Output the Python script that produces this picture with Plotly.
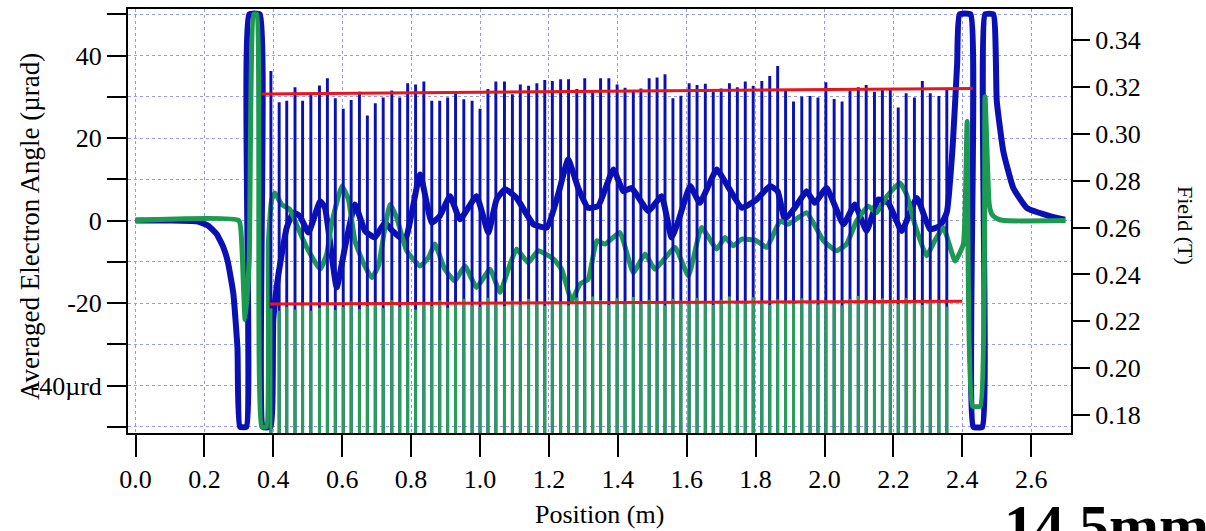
import plotly.graph_objects as go

# ---- pole-by-pole peak field (T), right axis ----
BAR_POS = [0.393, 0.417, 0.439, 0.463, 0.485, 0.509, 0.534, 0.557, 0.580, 0.603,
           0.626, 0.650, 0.673, 0.696, 0.719, 0.744, 0.767, 0.790, 0.813, 0.837,
           0.860, 0.883, 0.906, 0.929, 0.953, 0.977, 1.000, 1.023, 1.046, 1.071,
           1.094, 1.117, 1.141, 1.165, 1.188, 1.210, 1.234, 1.257, 1.281, 1.304,
           1.327, 1.350, 1.374, 1.398, 1.421, 1.445, 1.467, 1.491, 1.514, 1.537,
           1.560, 1.583, 1.607, 1.630, 1.654, 1.677, 1.700, 1.724, 1.747, 1.770,
           1.793, 1.818, 1.841, 1.864, 1.887, 1.910, 1.934, 1.958, 1.981, 2.004,
           2.028, 2.051, 2.074, 2.098, 2.121, 2.145, 2.168, 2.191, 2.214, 2.237,
           2.261, 2.284, 2.307, 2.332, 2.355]

FIELD_PEAK_HIGH = [0.3268, 0.3135, 0.3141, 0.3199, 0.3141, 0.3176, 0.3206, 0.3237, 0.3152, 0.3107,
                   0.3145, 0.3180, 0.3078, 0.3131, 0.3155, 0.3185, 0.3155, 0.3216, 0.3211, 0.3223,
                   0.3141, 0.3141, 0.3155, 0.3173, 0.3148, 0.3141, 0.3107, 0.3192, 0.3223, 0.3223,
                   0.3169, 0.3211, 0.3205, 0.3216, 0.3230, 0.3226, 0.3233, 0.3233, 0.3192, 0.3237,
                   0.3178, 0.3237, 0.3237, 0.3211, 0.3197, 0.3180, 0.3194, 0.3237, 0.3241, 0.3254,
                   0.3152, 0.3163, 0.3216, 0.3209, 0.3214, 0.3180, 0.3194, 0.3216, 0.3199, 0.3223,
                   0.3205, 0.3226, 0.3247, 0.3290, 0.3183, 0.3138, 0.3159, 0.3162, 0.3155, 0.3220,
                   0.3149, 0.3138, 0.3185, 0.3199, 0.3209, 0.3180, 0.3188, 0.3188, 0.3112, 0.3173,
                   0.3155, 0.3226, 0.3173, 0.3162, 0.3192]

FIELD_PEAK_LOW = [0.2255, 0.2245, 0.2262, 0.2250, 0.2268, 0.2244, 0.2258, 0.2270, 0.2248, 0.2262,
                  0.2285, 0.2252, 0.2266, 0.2278, 0.2256, 0.2290, 0.2262, 0.2272, 0.2250, 0.2281,
                  0.2266, 0.2290, 0.2258, 0.2275, 0.2296, 0.2268, 0.2262, 0.2300, 0.2280, 0.2265,
                  0.2288, 0.2272, 0.2296, 0.2278, 0.2266, 0.2290, 0.2282, 0.2268, 0.2302, 0.2276,
                  0.2306, 0.2290, 0.2270, 0.2298, 0.2284, 0.2304, 0.2276, 0.2292, 0.2280, 0.2268,
                  0.2296, 0.2288, 0.2275, 0.2300, 0.2284, 0.2270, 0.2292, 0.2306, 0.2286, 0.2276,
                  0.2302, 0.2288, 0.2270, 0.2294, 0.2282, 0.2276, 0.2298, 0.2286, 0.2272, 0.2290,
                  0.2280, 0.2268, 0.2296, 0.2308, 0.2284, 0.2276, 0.2298, 0.2290, 0.2274, 0.2300,
                  0.2284, 0.2270, 0.2292, 0.2278, 0.2262]

FIELD_BASE = 0.17

# linear trend lines through the peaks
FIT_HIGH_X = [0.366, 2.430]
FIT_HIGH_T = [0.3170, 0.3194]
FIT_LOW_X = [0.390, 2.400]
FIT_LOW_T = [0.2274, 0.2285]

# ---- averaged electron angle (µrad), left axis ----
ANGLE_A_X = [0.000, 0.100, 0.178, 0.210, 0.236, 0.255, 0.268, 0.284, 0.296, 0.303,
             0.322, 0.330, 0.361, 0.370, 0.392, 0.400, 0.415, 0.439, 0.458, 0.477,
             0.502, 0.536, 0.550, 0.584, 0.608, 0.637, 0.666, 0.695, 0.724, 0.746,
             0.782, 0.826, 0.860, 0.883, 0.913, 0.942, 0.990, 1.024, 1.048, 1.073,
             1.106, 1.155, 1.194, 1.227, 1.256, 1.285, 1.314, 1.343, 1.387, 1.416,
             1.440, 1.489, 1.527, 1.556, 1.576, 1.610, 1.638, 1.687, 1.716, 1.760,
             1.803, 1.842, 1.864, 1.885, 1.914, 1.948, 1.972, 2.006, 2.055, 2.088,
             2.122, 2.156, 2.185, 2.224, 2.268, 2.306, 2.335, 2.355, 2.372, 2.385,
             2.392, 2.424, 2.432, 2.458, 2.466, 2.490, 2.500, 2.519, 2.548, 2.587,
             2.654, 2.698]
ANGLE_A = [0.0, 0.0, -0.2, -1.2, -3.3, -6.5, -10.0, -17.7, -31.0, -50.0,
           -50.0, 50.0, 50.0, -50.0, -50.0, -24.0, -13.0, -1.7, 1.9, 1.1,
           -2.9, 4.7, 3.1, -16.2, -6.5, 3.9, -2.5, -4.1, -0.5, -2.5,
           -4.9, 11.2, -0.5, 1.1, 5.9, 0.3, 5.9, -2.9, 5.1, 7.6,
           5.5, -0.9, -1.7, 6.4, 14.8, 7.9, 3.1, 3.5, 12.4, 7.1,
           7.9, 2.3, 5.9, -4.1, -0.1, 8.4, 4.3, 12.4, 8.8, 3.1,
           5.1, 8.4, 7.1, 0.3, 3.1, 7.1, 4.3, 7.9, -0.9, 3.9,
           -2.5, 5.1, 4.3, -2.5, 5.5, -2.1, -1.3, 2.0, 18.0, 38.0,
           50.0, 50.0, -50.0, -50.0, 50.0, 50.0, 29.0, 16.8, 7.9, 3.1,
           1.1, 0.2]

ANGLE_B_X = [0.000, 0.300, 0.308, 0.318, 0.330, 0.343, 0.352, 0.366, 0.380, 0.386,
             0.395, 0.405, 0.424, 0.448, 0.467, 0.497, 0.536, 0.555, 0.569,
             0.599, 0.618, 0.637, 0.661, 0.686, 0.705, 0.724, 0.739, 0.758, 0.787,
             0.826, 0.850, 0.869, 0.898, 0.927, 0.956, 0.990, 1.029, 1.058, 1.082,
             1.106, 1.140, 1.169, 1.213, 1.237, 1.266, 1.290, 1.314, 1.339, 1.363,
             1.406, 1.445, 1.479, 1.508, 1.566, 1.605, 1.643, 1.687, 1.711, 1.735,
             1.760, 1.803, 1.832, 1.871, 1.895, 1.948, 1.997, 2.035, 2.064, 2.093,
             2.127, 2.151, 2.181, 2.219, 2.238, 2.262, 2.296, 2.320, 2.345, 2.379,
             2.403, 2.414, 2.430, 2.452, 2.466, 2.478, 2.486, 2.500, 2.520, 2.700]
ANGLE_B = [0.0, 0.0, -5.0, -24.0, -10.0, 50.0, 50.0, -50.0, -50.0, -5.0,
           5.0, 6.7, 3.9, 2.7, -0.9, -6.5, -11.8, -8.1, -0.9,
           8.4, 5.1, -4.9, -10.2, -13.8, -11.0, -1.7, 3.9, 0.7, -7.3,
           -11.0, -9.0, -5.7, -11.8, -14.6, -11.0, -16.2, -11.8, -17.4, -11.8,
           -6.9, -10.2, -7.3, -9.3, -11.8, -19.4, -15.4, -14.2, -4.9, -5.7,
           -2.9, -12.6, -8.1, -11.8, -6.5, -13.4, -1.7, -6.9, -4.1, -6.1,
           -4.5, -4.9, -6.5, -0.1, -0.9, 1.9, -4.9, -7.3, -5.7, -0.1,
           3.5, 1.9, 5.9, 9.1, 6.4, -0.9, -8.5, -4.9, -1.7, -9.8,
           -5.7, 24.0, -45.0, -45.0, 30.0, 4.0, 1.5, 0.5, 0.0, 0.0]

# ---- axis ticks ----
X_TICKS = [0.0, 0.2, 0.4, 0.6, 0.8, 1.0, 1.2, 1.4, 1.6, 1.8, 2.0, 2.2, 2.4, 2.6]
X_TICK_TEXT = ["0.0", "0.2", "0.4", "0.6", "0.8", "1.0", "1.2", "1.4", "1.6", "1.8",
               "2.0", "2.2", "2.4", "2.6"]
ANGLE_TICKS = [-50, -40, -30, -20, -10, 0, 10, 20, 30, 40, 50]
ANGLE_TICK_TEXT = ["", "-40µrd", "", "-20", "", "0", "", "20", "", "40", ""]
FIELD_TICKS = [0.18, 0.20, 0.22, 0.24, 0.26, 0.28, 0.30, 0.32, 0.34]
FIELD_TICK_TEXT = ["0.18", "0.20", "0.22", "0.24", "0.26", "0.28", "0.30", "0.32", "0.34"]

BLUE = "#0a10b4"
GREEN = "#1c9a50"
GREEN_BAR = "#2a9d5c"
RED = "#e8141e"
GRID = "#9a9ae6"
FONT = "Liberation Serif"

W, H = 1206, 531
M_L, M_R, M_T, M_B = 128, 135, 7, 98
PW = W - M_L - M_R
PH = H - M_T - M_B


def px_x(px):
    return (px - M_L) / PW


def px_y(py):
    return (H - M_B - py) / PH


fig = go.Figure()

fig.add_trace(go.Bar(
    x=BAR_POS, y=[t - FIELD_BASE for t in FIELD_PEAK_HIGH], base=FIELD_BASE,
    width=0.0085, marker=dict(color=BLUE, line=dict(width=0)), yaxis="y2",
    showlegend=False))
fig.add_trace(go.Bar(
    x=BAR_POS, y=[t - FIELD_BASE for t in FIELD_PEAK_LOW], base=FIELD_BASE,
    width=0.0090, marker=dict(color=GREEN_BAR, line=dict(width=0)), yaxis="y2",
    showlegend=False))

fig.add_trace(go.Scatter(x=FIT_HIGH_X, y=FIT_HIGH_T, mode="lines", yaxis="y2",
                         line=dict(color=RED, width=3), showlegend=False))
fig.add_trace(go.Scatter(x=FIT_LOW_X, y=FIT_LOW_T, mode="lines", yaxis="y2",
                         line=dict(color=RED, width=3), showlegend=False))

fig.add_trace(go.Scatter(x=ANGLE_A_X, y=ANGLE_A, mode="lines",
                         line=dict(color=BLUE, width=6, shape="spline", smoothing=0.4),
                         showlegend=False))
fig.add_trace(go.Scatter(x=ANGLE_B_X, y=ANGLE_B, mode="lines",
                         line=dict(color=GREEN, width=5, shape="spline", smoothing=0.4),
                         showlegend=False))

tick_font = dict(family=FONT, size=26, color="black")

fig.update_layout(
    width=W, height=H,
    margin=dict(l=M_L, r=M_R, t=M_T, b=M_B, pad=0),
    paper_bgcolor="white", plot_bgcolor="white",
    barmode="overlay",
    font=dict(family=FONT, color="black"),
    xaxis=dict(
        range=[-0.0218, 2.7155], tickvals=X_TICKS, ticktext=X_TICK_TEXT,
        ticks="outside", ticklen=22, tickwidth=2, tickcolor="black",
        showline=True, linewidth=2, linecolor="black", mirror=True,
        showgrid=True, gridcolor=GRID, gridwidth=1, griddash="dot",
        zeroline=False, tickfont=tick_font,
    ),
    yaxis=dict(
        range=[-51.5, 51.3], tickvals=ANGLE_TICKS, ticktext=ANGLE_TICK_TEXT,
        ticks="outside", ticklen=19, tickwidth=2, tickcolor="black",
        showline=True, linewidth=2, linecolor="black",
        showgrid=True, gridcolor=GRID, gridwidth=1, griddash="dot",
        zeroline=False, tickfont=tick_font,
    ),
    yaxis2=dict(
        range=[0.1723, 0.3533], tickvals=FIELD_TICKS, ticktext=FIELD_TICK_TEXT,
        overlaying="y", side="right",
        ticks="outside", ticklen=17, tickwidth=2, tickcolor="black",
        showline=True, linewidth=2, linecolor="black",
        showgrid=False, zeroline=False, tickfont=tick_font,
    ),
    annotations=[
        dict(text="Averaged Electron Angle (µrad)", textangle=-90,
             x=px_x(30), y=px_y(226), xref="paper", yref="paper",
             xanchor="center", yanchor="middle", showarrow=False,
             font=dict(family=FONT, size=27, color="black")),
        dict(text="Field (T)", textangle=90,
             x=px_x(1185), y=px_y(224), xref="paper", yref="paper",
             xanchor="center", yanchor="middle", showarrow=False,
             font=dict(family=FONT, size=22, color="black")),
        dict(text="Position (m)",
             x=px_x(599), y=px_y(515), xref="paper", yref="paper",
             xanchor="center", yanchor="middle", showarrow=False,
             font=dict(family=FONT, size=26, color="black")),
        dict(text="<b>14.5mm</b>",
             x=px_x(1003), y=px_y(492), xref="paper", yref="paper",
             xanchor="left", yanchor="top", showarrow=False, borderpad=0,
             font=dict(family=FONT, size=60, color="black")),
    ],
)

fig.write_html("out.html")
